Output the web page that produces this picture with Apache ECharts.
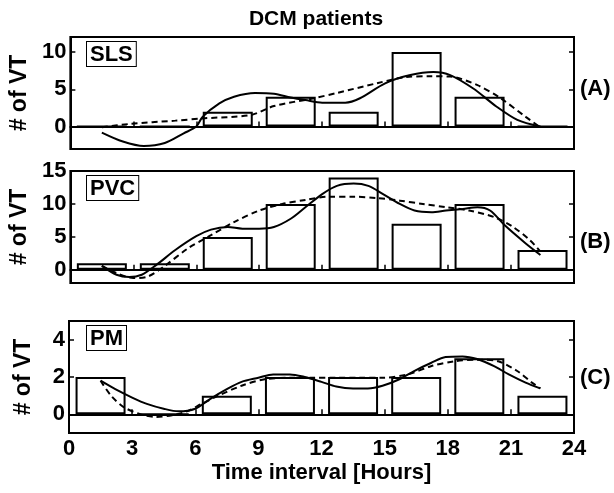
<html>
    <head>
        <meta charset="utf-8">
        <script src="https://cdn.jsdelivr.net/npm/echarts@6/dist/echarts.min.js"></script>
    </head>
    <body>
        <style>
            html, body, #main {
                width: 100%;
                height: 100%;
                margin: 0;
                background: #fff;
            }
        </style>
        <div id="main"></div>
        <script>

        var chart = echarts.init(document.getElementById('main'));

        // bar centres (hours) and counts per 3h interval
        var hours = [1.5, 4.5, 7.5, 10.5, 13.5, 16.5, 19.5, 22.5];

        var slsBars = [0, 0, 2, 4, 2, 10, 4, 0];
        var pvcBars = [1, 1, 5, 10, 14, 7, 10, 3];
        var pmBars = [2, 0, 1, 2, 2, 2, 3, 1];

        var slsSolid = [[1.5, -0.8], [2.5, -2.0], [3.5, -2.6], [4.5, -2.2], [5.4, -0.9], [6.0, 0.0], [6.3, 1.3], [7.1, 3.1], [7.8, 4.0],
            [8.8, 4.5], [9.7, 4.4], [10.5, 3.9], [11.2, 3.55], [12.0, 3.2], [13.1, 3.2], [13.8, 3.8], [15.0, 5.8], [16.2, 6.9],
            [17.3, 7.3], [18.1, 6.9], [19.2, 5.1], [20.3, 2.7], [21.3, 0.9], [22.4, 0]];
        var slsDashed = [[1.5, -0.1], [2.8, 0.35], [5.0, 0.8], [6.3, 1.1], [8.6, 1.55], [9.7, 2.75], [11.6, 3.8], [12.7, 4.5],
            [14.6, 5.8], [15.9, 6.6], [17.2, 6.75], [18.1, 6.7], [19.4, 5.55], [20.5, 3.8], [21.7, 1.3], [22.4, -0.1]];

        var pvcSolid = [[1.5, 0.6], [2.2, -0.75], [2.8, -1.1], [3.4, -0.75], [4.1, 0.75], [5.0, 3], [6.0, 5.1], [6.7, 6.1], [7.5, 6.5],
            [8.2, 6.25], [9.0, 6.25], [9.7, 6.5], [10.5, 7.75], [11.2, 9.5], [12.0, 11.5], [12.7, 12.75], [13.5, 13.1], [14.2, 12.75],
            [14.9, 11.5], [15.7, 10], [16.4, 9], [17.2, 8.75], [17.9, 9], [18.7, 9.25], [19.4, 9.5], [20.0, 9], [20.7, 6.75],
            [21.7, 4], [22.4, 2.25]];
        var pvcDashed = [[1.5, 0.6], [2.2, -0.5], [3.0, -1.25], [3.7, -1], [4.5, 0.6], [5.6, 3.25], [6.7, 5.25], [7.8, 7.25], [9.0, 9],
            [10.1, 10], [11.2, 10.6], [12.3, 11.1], [13.5, 11.1], [14.6, 10.9], [15.7, 10.5], [16.8, 10], [17.9, 9.5], [19.0, 9],
            [20.2, 8], [21.1, 6.5], [21.9, 4.5], [22.4, 2.75]];

        var pmSolid = [[1.5, 1.8], [2.2, 1.35], [3.0, 0.9], [3.7, 0.56], [4.5, 0.3], [5.2, 0.16], [6.0, 0.3], [6.7, 0.82], [7.5, 1.35],
            [8.2, 1.74], [9.0, 1.96], [9.7, 2.14], [10.5, 2.14], [11.2, 2], [12.0, 1.74], [12.7, 1.49], [13.5, 1.39], [14.2, 1.39],
            [14.9, 1.53], [15.7, 1.88], [16.4, 2.32], [17.2, 2.75], [17.9, 3.07], [18.7, 3.1], [19.4, 2.96], [20.2, 2.58],
            [20.9, 2.14], [21.7, 1.7], [22.4, 1.39]];
        var pmDashed = [[1.5, 1.8], [2.0, 1], [2.6, 0.39], [3.4, 0], [4.1, -0.14], [4.9, -0.05], [5.6, 0.16], [6.3, 0.56], [7.1, 1],
            [8.2, 1.53], [9.3, 1.88], [10.5, 1.96], [11.6, 1.96], [12.7, 1.96], [13.8, 1.96], [14.9, 1.96], [16.1, 2.14],
            [17.2, 2.58], [18.3, 2.84], [19.4, 2.93], [20.4, 2.84], [21.3, 2.32], [22.0, 1.7], [22.4, 1.39]];

        var panels = [
            { name: 'SLS', tag: '(A)', min: -3, max: 12, yTicks: [0, 5, 10], bars: slsBars, solid: slsSolid, dashed: slsDashed },
            { name: 'PVC', tag: '(B)', min: -2, max: 15, yTicks: [0, 5, 10, 15], bars: pvcBars, solid: pvcSolid, dashed: pvcDashed },
            { name: 'PM', tag: '(C)', min: -1, max: 5, yTicks: [0, 2, 4], bars: pmBars, solid: pmSolid, dashed: pmDashed }
        ];

        var font = 'Liberation Sans, Arial, sans-serif';
        var gridTops = [37, 171, 321];
        var gridH = 112;
        var gridLeft = 69;
        var gridW = 505;

        var grids = [], xAxes = [], yAxes = [], series = [], graphics = [];

        graphics.push({
            type: 'text', x: 316, y: 19,
            style: { text: 'DCM patients', font: 'bold 21px ' + font, fill: '#000', align: 'center', verticalAlign: 'middle' }
        });

        panels.forEach(function (p, i) {
            var last = i === panels.length - 1;
            grids.push({
                left: gridLeft, top: gridTops[i], width: gridW, height: gridH,
                show: true, borderColor: '#000', borderWidth: 2, backgroundColor: 'transparent'
            });
            xAxes.push({
                gridIndex: i, type: 'value', min: 0, max: 24, interval: 3,
                axisLine: { lineStyle: { color: '#000', width: 2 } },
                axisTick: { inside: true, length: 5, lineStyle: { color: '#000', width: 1.5 } },
                axisLabel: { show: last, color: '#000', fontSize: 22, fontWeight: 'bold', fontFamily: font, margin: 5 },
                splitLine: { show: false },
                name: last ? 'Time interval [Hours]' : '',
                nameLocation: 'middle', nameGap: 29,
                nameTextStyle: { color: '#000', fontSize: 22, fontWeight: 'bold', fontFamily: font }
            });
            yAxes.push({
                gridIndex: i, type: 'value', min: p.min, max: p.max, position: 'left',
                axisLine: { lineStyle: { color: '#000', width: 2 } },
                axisTick: { inside: true, length: 5, customValues: p.yTicks, lineStyle: { color: '#000', width: 1.5 } },
                axisLabel: { customValues: p.yTicks, color: '#000', fontSize: 22, fontWeight: 'bold', fontFamily: font, margin: 4 },
                splitLine: { show: false },
                name: '# of VT', nameLocation: 'middle', nameRotate: 90, nameGap: 34,
                nameTextStyle: { color: '#000', fontSize: 23, fontWeight: 'bold', fontFamily: font }
            });
            yAxes.push({
                gridIndex: i, type: 'value', min: p.min, max: p.max, position: 'right',
                axisLine: { lineStyle: { color: '#000', width: 2 } },
                axisTick: { inside: true, length: 5, customValues: p.yTicks, lineStyle: { color: '#000', width: 1.5 } },
                axisLabel: { show: false },
                splitLine: { show: false }
            });

            series.push({
                type: 'bar', xAxisIndex: i, yAxisIndex: i * 2, barWidth: 50, silent: true,
                data: hours.map(function (h, k) { return [h, p.bars[k]]; }),
                itemStyle: { color: 'rgba(255,255,255,0)', borderColor: '#000', borderWidth: 2 },
                z: 2
            });
            series.push({
                type: 'line', xAxisIndex: i, yAxisIndex: i * 2, data: p.solid, smooth: 0.3,
                showSymbol: false, lineStyle: { color: '#000', width: 2 }, z: 3
            });
            series.push({
                type: 'line', xAxisIndex: i, yAxisIndex: i * 2, data: p.dashed, smooth: 0.3,
                showSymbol: false, lineStyle: { color: '#000', width: 2, type: [6, 4] }, z: 3
            });

            graphics.push({
                type: 'text', x: 87, y: gridTops[i] + 5,
                style: {
                    text: p.name, font: 'bold 22px ' + font, fill: '#000',
                    backgroundColor: '#fff', borderColor: '#000', borderWidth: 1, padding: [2, 3, 0, 3]
                },
                z: 10
            });
            graphics.push({
                type: 'text', x: 580, y: gridTops[i] + [52, 71, 57][i],
                style: { text: p.tag, font: 'bold 22px ' + font, fill: '#000', verticalAlign: 'middle' }
            });
        });

        chart.setOption({
            backgroundColor: '#fff',
            animation: false,
            grid: grids,
            xAxis: xAxes,
            yAxis: yAxes,
            series: series,
            graphic: graphics
        });

        </script>
    </body>
</html>
